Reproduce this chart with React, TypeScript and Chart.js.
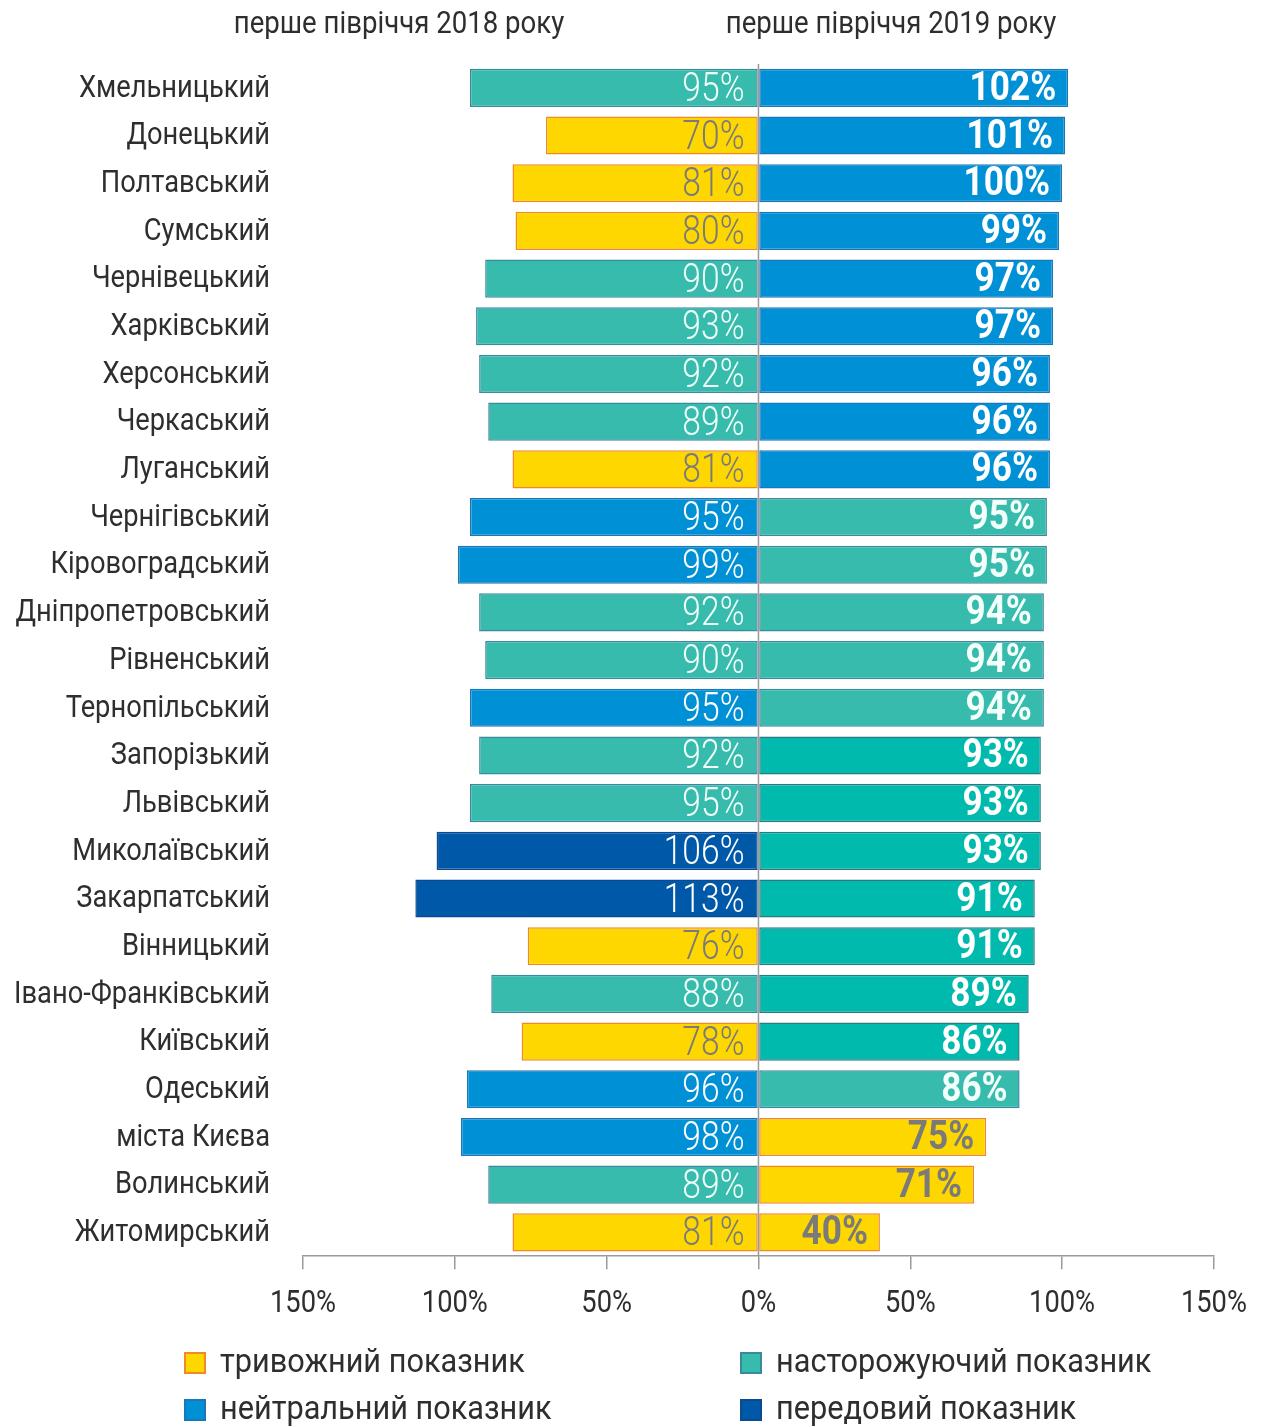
import React, { useEffect, useRef } from "react";
import { Chart, registerables } from "chart.js";

Chart.register(...registerables);

const regions = [
  "Хмельницький", "Донецький", "Полтавський", "Сумський", "Чернівецький",
  "Харківський", "Херсонський", "Черкаський", "Луганський", "Чернігівський",
  "Кіровоградський", "Дніпропетровський", "Рівненський", "Тернопільський", "Запорізький",
  "Львівський", "Миколаївський", "Закарпатський", "Вінницький", "Івано-Франківський",
  "Київський", "Одеський", "міста Києва", "Волинський", "Житомирський",
];

const values2018 = [95, 70, 81, 80, 90, 93, 92, 89, 81, 95, 99, 92, 90, 95, 92, 95, 106, 113, 76, 88, 78, 96, 98, 89, 81];
const values2019 = [102, 101, 100, 99, 97, 97, 96, 96, 96, 95, 95, 94, 94, 94, 93, 93, 93, 91, 91, 89, 86, 86, 75, 71, 40];

// a = тривожний, w = насторожуючий, w2 = насторожуючий (darker shade), n = нейтральний, p = передовий
const class2018 = ["w", "a", "a", "a", "w", "w", "w", "w", "a", "n", "n", "w", "w", "n", "w", "w", "p", "p", "a", "w", "a", "n", "n", "w", "a"];
const class2019 = ["n", "n", "n", "n", "n", "n", "n", "n", "n", "w", "w", "w", "w", "w", "w2", "w2", "w2", "w2", "w2", "w2", "w2", "w", "a", "a", "a"];

const xTicks = [-150, -100, -50, 0, 50, 100, 150];

const titles = ["перше півріччя 2018 року", "перше півріччя 2019 року"];
const legendLabels = ["тривожний показник", "насторожуючий показник", "нейтральний показник", "передовий показник"];
const legendClasses = ["a", "w", "n", "p"];

const FILL: Record<string, string> = { a: "#FFD700", w: "#36BBAD", w2: "#00BBAD", n: "#0090D5", p: "#0058A8" };
const BORDER: Record<string, string> = { a: "#F0892A", w: "#3A8A9E", w2: "#2A7A82", n: "#1A78B8", p: "#0A4A90" };
const LABEL: Record<string, string> = { a: "#7A7A7A", w: "#F2FFFB", w2: "#FFFFFF", n: "#FFFFFF", p: "#FFFFFF" };

const FONT = "Roboto, 'DejaVu Sans', sans-serif";
const TEXT = "#2E2E2E";

function narrowText(
  ctx: CanvasRenderingContext2D,
  text: string,
  x: number,
  y: number,
  align: CanvasTextAlign,
  size: number,
  weight: string,
  color: string,
  sx: number
) {
  ctx.save();
  ctx.translate(x, y);
  ctx.scale(sx, 1);
  ctx.font = `${weight} ${size}px ${FONT}`;
  ctx.textAlign = align;
  ctx.textBaseline = "middle";
  ctx.fillStyle = color;
  ctx.fillText(text, 0, 0);
  ctx.restore();
}

const overlayPlugin = {
  id: "overlay",
  afterDatasetsDraw(chart: any) {
    const ctx = chart.ctx;
    const xs = chart.scales.x;
    const ys = chart.scales.y;
    const area = chart.chartArea;
    const zero = xs.getPixelForValue(0);
    ctx.save();
    // zero line
    ctx.strokeStyle = "#9A9A9A";
    ctx.lineWidth = 1.5;
    ctx.beginPath();
    ctx.moveTo(zero, area.top);
    ctx.lineTo(zero, area.bottom);
    ctx.stroke();

    // category labels
    regions.forEach((r, i) => {
      narrowText(ctx, r, area.left - 33, ys.getPixelForTick(i) + 1, "right", 31, "normal", TEXT, 0.88);
    });

    // x tick labels
    xTicks.forEach((v) => {
      narrowText(ctx, Math.abs(v) + "%", xs.getPixelForValue(v), area.bottom + 48, "center", 31, "normal", TEXT, 0.88);
    });

    // value labels
    chart.data.datasets.forEach((ds: any, di: number) => {
      const meta = chart.getDatasetMeta(di);
      const classes = di === 0 ? class2018 : class2019;
      const vals = di === 0 ? values2018 : values2019;
      meta.data.forEach((el: any, i: number) => {
        const props = el.getProps(["x", "y", "base"], true);
        if (di === 0) {
          narrowText(ctx, vals[i] + "%", zero - 14, props.y + 3, "right", 40, "300", LABEL[classes[i]], 0.84);
        } else {
          narrowText(ctx, vals[i] + "%", props.x - 12, props.y + 2, "right", 40, "bold", LABEL[classes[i]], 0.88);
        }
      });
    });

    // titles
    narrowText(ctx, titles[0], 399, 25, "center", 31, "normal", TEXT, 0.89);
    narrowText(ctx, titles[1], 891, 25, "center", 31, "normal", TEXT, 0.89);

    // legend
    const cols = [185, 741];
    const rows = [1363, 1410];
    legendLabels.forEach((lab, i) => {
      const cx = cols[i % 2];
      const cy = rows[Math.floor(i / 2)];
      const c = legendClasses[i];
      ctx.fillStyle = FILL[c];
      ctx.fillRect(cx, cy - 10, 20, 20);
      ctx.strokeStyle = BORDER[c];
      ctx.lineWidth = 2;
      ctx.strokeRect(cx, cy - 10, 20, 20);
      narrowText(ctx, lab, cx + 35, cy + 1, "left", 33, "normal", TEXT, 0.93);
    });
    ctx.restore();
  },
};

export default function App() {
  const ref = useRef<HTMLCanvasElement | null>(null);
  useEffect(() => {
    document.body.style.margin = "0";
    const canvas = ref.current;
    if (!canvas) return;
    const chart = new Chart(canvas, {
      type: "bar",
      data: {
        labels: regions,
        datasets: [
          {
            label: "2018",
            data: values2018.map((v) => -v),
            backgroundColor: class2018.map((c) => FILL[c]),
            borderColor: class2018.map((c) => BORDER[c]),
            borderWidth: 1.5,
            borderSkipped: false,
            categoryPercentage: 1,
            barPercentage: 0.8,
          },
          {
            label: "2019",
            data: values2019,
            backgroundColor: class2019.map((c) => FILL[c]),
            borderColor: class2019.map((c) => BORDER[c]),
            borderWidth: 1.5,
            borderSkipped: false,
            categoryPercentage: 1,
            barPercentage: 0.8,
          },
        ],
      },
      options: {
        indexAxis: "y",
        responsive: false,
        animation: false,
        devicePixelRatio: 1,
        layout: { padding: { top: 64, right: 50, bottom: 87, left: 0 } },
        plugins: { legend: { display: false }, tooltip: { enabled: false } },
        scales: {
          x: {
            type: "linear",
            stacked: true,
            min: -150,
            max: 150,
            afterBuildTicks: (scale: any) => {
              scale.ticks = xTicks.map((v) => ({ value: v }));
            },
            grid: {
              drawOnChartArea: false,
              drawTicks: true,
              tickLength: 13,
              tickColor: "#9A9A9A",
              lineWidth: 1.5,
            },
            border: { display: true, color: "#9A9A9A", width: 1.5 },
            ticks: {
              padding: 18,
              color: "rgba(0,0,0,0)",
              font: { family: FONT, size: 29 },
              callback: (v: any) => Math.abs(Number(v)) + "%",
              maxRotation: 0,
            },
          },
          y: {
            stacked: true,
            grid: { display: false },
            border: { display: false },
            afterFit: (scale: any) => {
              scale.width = 303;
            },
            ticks: {
              padding: 33,
              color: "rgba(0,0,0,0)",
              font: { family: FONT, size: 20 },
              autoSkip: false,
            },
          },
        },
      },
      plugins: [overlayPlugin],
    } as any);
    return () => chart.destroy();
  }, []);
  return <canvas ref={ref} width={1267} height={1427} style={{ display: "block" }} />;
}
